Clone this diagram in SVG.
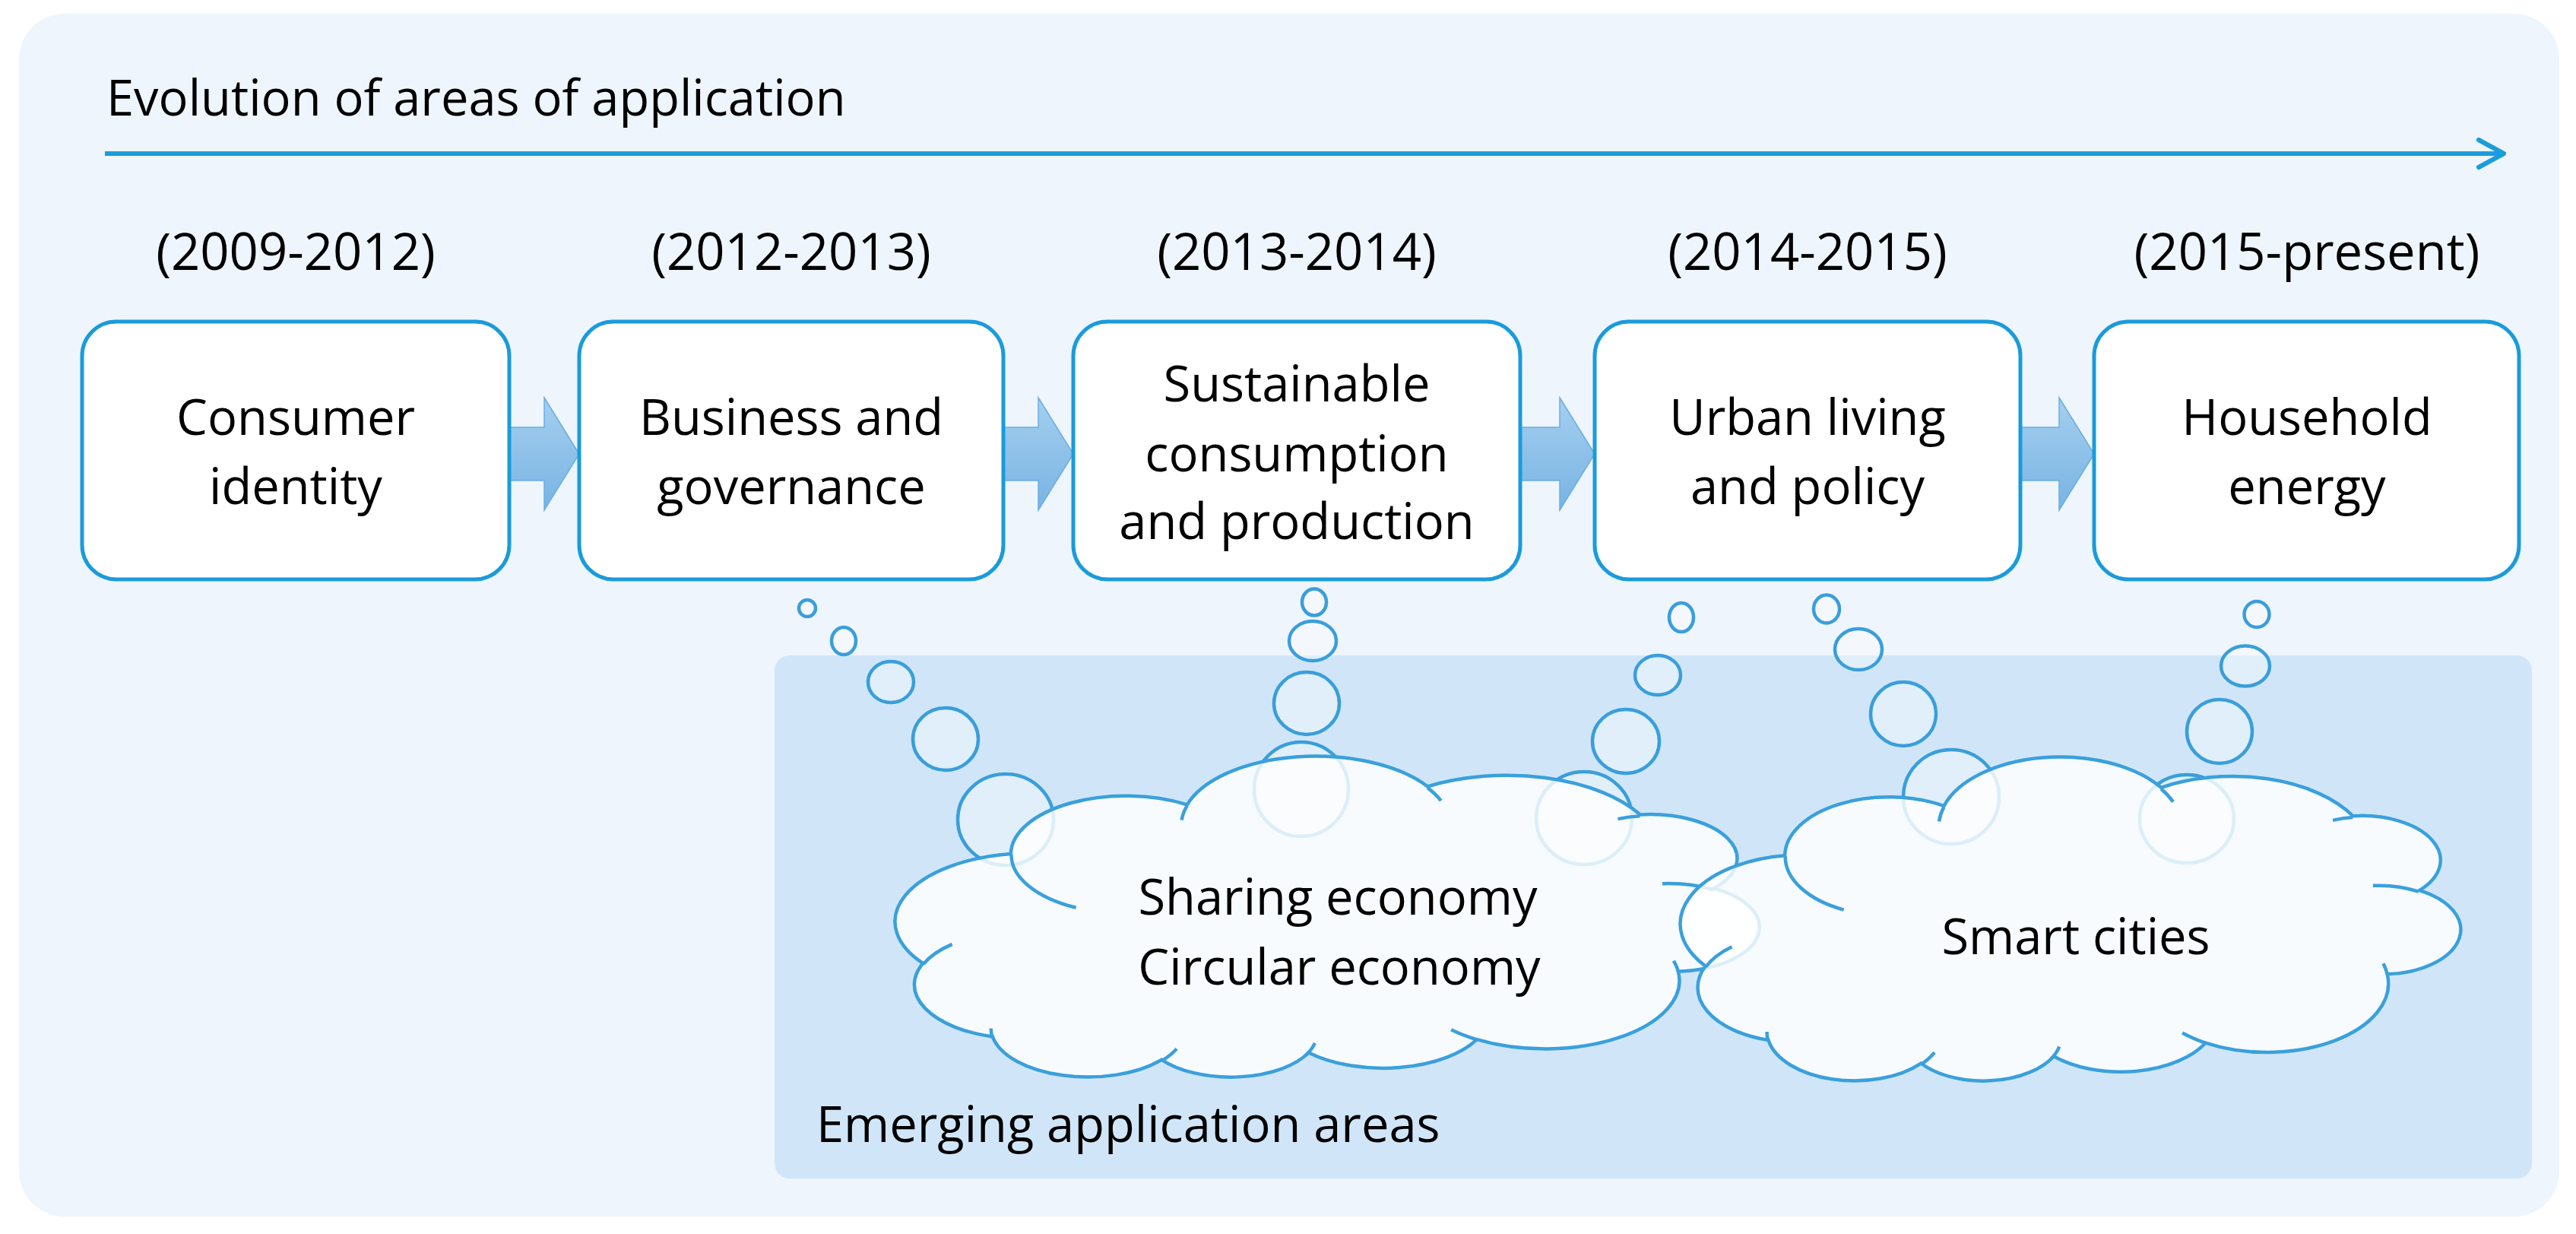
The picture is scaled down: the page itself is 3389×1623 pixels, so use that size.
<svg xmlns="http://www.w3.org/2000/svg" xmlns:xlink="http://www.w3.org/1999/xlink" width="3389" height="1623" viewBox="0 0 3389 1623">
<style>
  .t { font-family: "Open Sans", "Liberation Sans", sans-serif; font-size: 65px; fill: #000; }
  .d { font-size: 67px; }
  .c { text-anchor: middle; }
  .box { fill: #ffffff; stroke: #1a9bdb; stroke-width: 5; }
  .blk { fill: url(#blkGrad); stroke: #6aaee2; stroke-width: 1.5; }
  .bub { fill: #ffffff; fill-opacity: 0.35; stroke: #3a9edb; stroke-width: 4.5; }
  .cloudOuter { fill: #ffffff; fill-opacity: 0.82; stroke: #3aa0dc; stroke-width: 4.5; }
  .cloudInner { fill: none; stroke: #3aa0dc; stroke-width: 4.5; }
</style>
<defs>
  <linearGradient id="blkGrad" x1="0" y1="0" x2="0" y2="1">
    <stop offset="0" stop-color="#a5cfef"/>
    <stop offset="1" stop-color="#78b3e3"/>
  </linearGradient>
  <g id="cloudShape">
    <path class="cloudOuter" vector-effect="non-scaling-stroke" d="M3900 14370 A6753 9190 0 0 1 14006 5204 A5333 7267 0 0 1 22455 3430 A4365 5945 0 0 1 29832 2481 A4857 6595 0 0 1 38317 5576 A5333 7273 0 0 1 41818 15460 A6775 9220 0 0 1 37404 30203 A5785 7867 0 0 1 28553 36811 A6752 9215 0 0 1 16479 39265 A7720 10543 0 0 1 5809 35468 A4360 5918 0 0 1 2115 25549 A4345 5945 0 0 1 3900 14370 Z"/>
    <path class="cloudInner" vector-effect="non-scaling-stroke" d="M4693 26177 A4345 5945 0 0 1 2159 25380 M6928 34899 A4360 5918 0 0 1 5821 35280 M16478 39090 A6752 9215 0 0 1 15809 37348 M28827 34751 A6752 9215 0 0 1 28560 36660 M34129 22954 A5785 7867 0 0 1 37379 30088 M41798 15354 A5333 7273 0 0 1 40350 18031 M38324 5426 A4857 6595 0 0 1 38400 6690 M29078 3952 A4857 6595 0 0 1 29820 2341 M22141 4720 A4365 5945 0 0 1 22590 3097 M14000 5192 A6753 9190 0 0 1 15297 6537 M4127 15789 A6753 9190 0 0 1 3900 14370"/>
  </g>
</defs>

<rect id="background" x="25" y="18" width="3342" height="1582" rx="60" ry="60" fill="#eef5fc"/>

<g id="emerging-panel">
  <rect x="1019" y="862" width="2312" height="688" rx="20" ry="20" fill="#d0e6f8"/>
</g>

<g id="title">
  <text class="t" x="140" y="152">Evolution of areas of application</text>
</g>

<g id="dates">
  <text class="t d c" x="389" y="355">(2009-2012)</text>
  <text class="t d c" x="1041" y="355">(2012-2013)</text>
  <text class="t d c" x="1706" y="355">(2013-2014)</text>
  <text class="t d c" x="2378" y="355">(2014-2015)</text>
  <text class="t d c" x="3035" y="355">(2015-present)</text>
</g>

<g id="connectors">
  <line x1="138" y1="202" x2="3290" y2="202" stroke="#1a9ddd" stroke-width="6"/>
  <polyline points="3261,184 3294,202 3261,220" fill="none" stroke="#1a9ddd" stroke-width="6" stroke-linecap="round" stroke-linejoin="round"/>
  <path class="blk" d="M670,562 H716 V523 L762,597 L716,671 V632 H670 Z"/>
  <path class="blk" d="M1320,562 H1366 V523 L1412,597 L1366,671 V632 H1320 Z"/>
  <path class="blk" d="M2000,562 H2052 V523 L2098,597 L2052,671 V632 H2000 Z"/>
  <path class="blk" d="M2658,562 H2709 V523 L2755,597 L2709,671 V632 H2658 Z"/>
</g>

<g id="box-consumer-identity">
  <rect class="box" x="108" y="423" width="562" height="339" rx="45" ry="45"/>
  <text class="t c" x="389" y="572">Consumer</text>
  <text class="t c" x="389" y="663">identity</text>
</g>
<g id="box-business-governance">
  <rect class="box" x="762" y="423" width="558" height="339" rx="45" ry="45"/>
  <text class="t c" x="1041" y="572">Business and</text>
  <text class="t c" x="1041" y="663">governance</text>
</g>
<g id="box-sustainable-consumption">
  <rect class="box" x="1412" y="423" width="588" height="339" rx="45" ry="45"/>
  <text class="t c" x="1706" y="528">Sustainable</text>
  <text class="t c" x="1706" y="620">consumption</text>
  <text class="t c" x="1706" y="709">and production</text>
</g>
<g id="box-urban-living">
  <rect class="box" x="2098" y="423" width="560" height="339" rx="45" ry="45"/>
  <text class="t c" x="2378" y="572">Urban living</text>
  <text class="t c" x="2378" y="663">and policy</text>
</g>
<g id="box-household-energy">
  <rect class="box" x="2755" y="423" width="559" height="339" rx="45" ry="45"/>
  <text class="t c" x="3035" y="572">Household</text>
  <text class="t c" x="3035" y="663">energy</text>
</g>

<g id="thought-bubbles">
  <ellipse class="bub" cx="1062" cy="800" rx="11" ry="11"/>
  <ellipse class="bub" cx="1110" cy="843" rx="16" ry="18"/>
  <ellipse class="bub" cx="1172" cy="897" rx="30" ry="27"/>
  <ellipse class="bub" cx="1244" cy="972" rx="43" ry="41"/>
  <ellipse class="bub" cx="1323" cy="1078" rx="63" ry="60"/>

  <ellipse class="bub" cx="1729" cy="792" rx="16" ry="17.5"/>
  <ellipse class="bub" cx="1727" cy="843" rx="31" ry="26"/>
  <ellipse class="bub" cx="1719" cy="925" rx="43" ry="41"/>
  <ellipse class="bub" cx="1712" cy="1038" rx="62" ry="62"/>

  <ellipse class="bub" cx="2212" cy="812" rx="16" ry="19"/>
  <ellipse class="bub" cx="2181" cy="888" rx="30" ry="26"/>
  <ellipse class="bub" cx="2139" cy="975" rx="44" ry="42"/>
  <ellipse class="bub" cx="2084" cy="1076" rx="63" ry="61"/>

  <ellipse class="bub" cx="2403" cy="801" rx="17" ry="18.5"/>
  <ellipse class="bub" cx="2445" cy="854" rx="31" ry="27"/>
  <ellipse class="bub" cx="2504" cy="939" rx="43" ry="42"/>
  <ellipse class="bub" cx="2567" cy="1048" rx="63" ry="62"/>

  <ellipse class="bub" cx="2969" cy="808" rx="16.5" ry="17"/>
  <ellipse class="bub" cx="2954" cy="876" rx="32" ry="26.5"/>
  <ellipse class="bub" cx="2920" cy="962" rx="43" ry="42"/>
  <ellipse class="bub" cx="2877" cy="1077" rx="62" ry="58"/>
</g>

<g id="cloud-sharing-circular">
  <use xlink:href="#cloudShape" href="#cloudShape" transform="translate(2310,1418) scale(-0.026204,-0.0097685)"/>
  <text class="t c" x="1760" y="1203">Sharing economy</text>
  <text class="t c" x="1762" y="1295">Circular economy</text>
</g>

<g id="cloud-smart-cities">
  <use xlink:href="#cloudShape" href="#cloudShape" transform="translate(3233,1423) scale(-0.023657,-0.0098611)"/>
  <text class="t c" x="2731" y="1255">Smart cities</text>
</g>

<g id="panel-label">
  <text class="t" x="1074" y="1502">Emerging application areas</text>
</g>
</svg>
